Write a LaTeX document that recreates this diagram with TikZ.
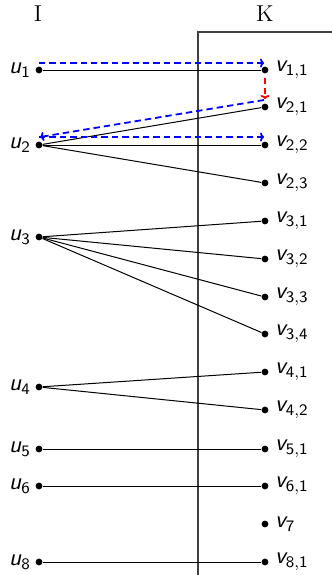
\documentclass[tikz,border=0pt]{standalone}
\usetikzlibrary{arrows.meta}
\DeclareMathAlphabet{\mathsfit}{OT1}{cmss}{m}{sl}

\begin{document}
\begin{tikzpicture}[
    x=0.5pt,y=-0.5pt,
    font=\fontsize{11.5}{14}\selectfont,
    dot/.style={circle,fill=black,inner sep=0pt,minimum size=3.4pt},
    edge/.style={black,line width=0.5pt},
    walk/.style={blue,line width=0.9pt,dash pattern=on 3.2pt off 2pt,-{To[length=2pt,width=4.5pt]}},
    hop/.style={red,line width=0.9pt,dash pattern=on 3.2pt off 2pt,-{To[length=2pt,width=4.5pt]}}
  ]
  \useasboundingbox (0,0) rectangle (332,575);
  \node (I) at (38,14) {I};
  \node (K) at (265,14) {K};
  \draw[black!75,line width=0.6pt] (332,32) -- (198,32) -- (198,575);

  % vertices of I
  \foreach \n/\y in {1/70,2/145,3/237,4/387,5/449,6/486,8/562}
    \node[dot,label={[inner sep=2pt]left:$\mathsfit{u}_{\mathsf{\n}}$}] (u\n) at (39,\y) {};

  % vertices of K
  \foreach \n/\lab/\y in {11/{1,1}/70,21/{2,1}/107,22/{2,2}/145,23/{2,3}/183,
      31/{3,1}/221,32/{3,2}/259,33/{3,3}/297,34/{3,4}/334,
      41/{4,1}/372,42/{4,2}/410,51/{5,1}/449,61/{6,1}/486,7/{7}/524,81/{8,1}/562}
    \node[dot,label={[inner sep=3pt]right:$\mathsfit{v}_{\mathsf{\lab}}$}] (v\n) at (265,\y) {};

  % edges
  \foreach \a/\b in {1/11,2/21,2/22,2/23,3/31,3/32,3/33,3/34,4/41,4/42,5/51,6/61,8/81}
    \draw[edge] (u\a) -- (v\b);

  % walk
  \draw[walk] ([yshift=3.5pt]u1.center) -- ([yshift=3.5pt,xshift=-0.5pt]v11.center);
  \draw[hop] ([yshift=-3.8pt]v11.center) -- ([yshift=4pt]v21.center);
  \draw[walk] ([yshift=3.5pt,xshift=-0.5pt]v21.center) -- ([yshift=4pt,xshift=0.5pt]u2.center);
  \draw[walk] ([yshift=4pt]u2.center) -- ([yshift=4pt,xshift=-0.5pt]v22.center);
\end{tikzpicture}
\end{document}
